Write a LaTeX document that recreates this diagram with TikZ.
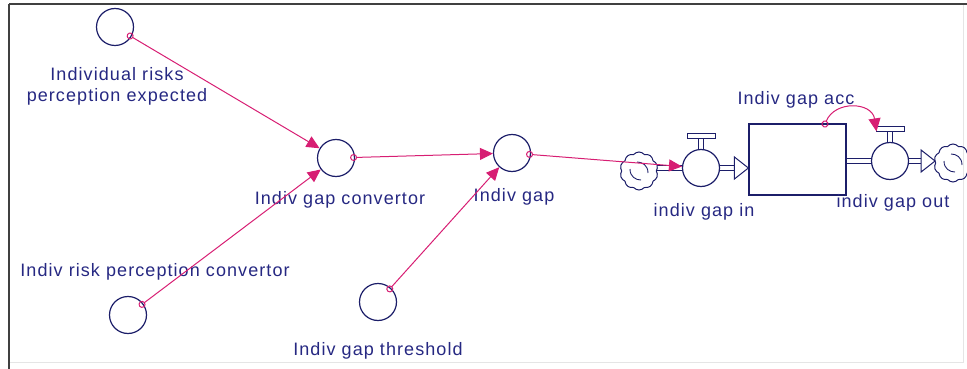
\documentclass[tikz,border=0pt]{standalone}
\usepackage{fontspec}
\setmainfont{Liberation Sans}[LetterSpace=6]
\usetikzlibrary{arrows.meta,shapes.symbols,calc}
\definecolor{navy}{RGB}{28,30,105}
\definecolor{txt}{RGB}{38,40,130}
\definecolor{mag}{RGB}{215,30,115}
\begin{document}
\begin{tikzpicture}[x=1pt,y=-1pt,
  conv/.style={circle, draw=navy, line width=1.2pt, minimum size=37pt, inner sep=0pt},
  valve/.style={circle, draw=navy, line width=1.2pt, minimum size=37pt, inner sep=0pt},
  bar/.style={draw=navy, line width=1pt, minimum width=28pt, minimum height=5pt, inner sep=0pt},
  cloudnode/.style={cloud, cloud puffs=10, cloud puff arc=100, aspect=1, draw=navy, line width=1pt, minimum width=38pt, minimum height=38pt, inner sep=0pt},
  lbl/.style={text=txt, font=\fontsize{18}{21}\selectfont, inner sep=0pt, align=center},
  link/.style={draw=mag, line width=1pt, shorten <=-5pt, {Circle[open,length=7pt,width=7pt]}-{Triangle[length=13pt,width=12pt]}},
  pipeline/.style={draw=navy, line width=1pt}]
\useasboundingbox (0,0) rectangle (967,369);
% frame
\draw[black!75, line width=2pt] (9,4) -- (967,4);
\draw[black!75, line width=2.5pt] (9,4) -- (9,369);
\draw[black!10, line width=1pt] (963,5) -- (963,362) -- (10,362);

% converters
\node[conv] (irpe) at (115,27) {};
\node[conv] (igc) at (336,158) {};
\node[conv] (ig) at (512,153) {};
\node[conv] (irpc) at (128,315) {};
\node[conv] (igt) at (378,302) {};

% labels
\node[lbl] (lirpe) at (117,86) {Individual risks\\perception expected};
\node[lbl] (ligc) at (340,200) {Indiv gap convertor};
\node[lbl] (lig) at (514,197) {Indiv gap};
\node[lbl] (lirpc) at (155,272) {Indiv risk perception convertor};
\node[lbl] (ligt) at (378,351) {Indiv gap threshold};

% stock and flows
\node[draw=navy, line width=1.2pt, minimum width=97pt, minimum height=71pt, inner sep=0pt] (acc) at (797.5,159.5) {};
\node[lbl] (lacc) at (796,100) {Indiv gap acc};
\node[cloudnode] (cin) at (639,171) {};
\node[valve] (vin) at (701,168) {};
\node[bar] (tin) at ($(vin.north)+(0,-12.5)$) {};
\node[valve] (vout) at (890,161) {};
\node[bar] (tout) at ($(vout.north)+(0,-12.5)$) {};
\node[cloudnode] (cout) at (953,163) {};
\node[lbl] (lvin) at (704,212) {indiv gap in};
\node[lbl] (lvout) at (893,203) {indiv gap out};

% valve stems
\foreach \v/\t in {vin/tin, vout/tout} {
  \draw[pipeline] ($(\t.south)+(-2.5,0)$) -- ($(\v.north)+(-2.5,0)$);
  \draw[pipeline] ($(\t.south)+(2.5,0)$) -- ($(\v.north)+(2.5,0)$);
}
% cloud inner marks
\foreach \c in {cin, cout} {
  \draw[navy, line width=0.9pt] ($(\c.center)+(-9,-2)$) .. controls +(0,8) and +(-5,0) .. ($(\c.center)+(2,9)$);
  \draw[navy, line width=0.9pt] ($(\c.center)+(9,2)$) .. controls +(0,-8) and +(5,0) .. ($(\c.center)+(-2,-9)$);
}

% inflow pipe
\foreach \d in {-2.5,2.5} {
  \draw[pipeline] ($(cin.east |- vin)+(0,\d)$) -- ($(vin.west)+(0,\d)$);
  \draw[pipeline] ($(vin.east)+(0,\d)$) -- ($(acc.west |- vin)+(-14,\d)$);
}
\draw[pipeline] ($(acc.west |- vin)+(-14,-11)$) -- (acc.west |- vin) -- ($(acc.west |- vin)+(-14,11)$) -- cycle;
% outflow pipe
\foreach \d in {-2.5,2.5} {
  \draw[pipeline] ($(acc.east |- vout)+(0,\d)$) -- ($(vout.west)+(0,\d)$);
  \draw[pipeline] ($(vout.east)+(0,\d)$) -- ($(cout.west |- vout)+(-14,\d)$);
}
\draw[pipeline] ($(cout.west |- vout)+(-14,-11)$) -- (cout.west |- vout) -- ($(cout.west |- vout)+(-14,11)$) -- cycle;

% connectors
\draw[link] (irpe) -- (igc);
\draw[link] (irpc) -- (igc);
\draw[link] (igc) -- (ig);
\draw[link] (igt) -- (ig);
\draw[link] (ig) -- (vin);
\coordinate (accout) at (825,124);
\coordinate (tend) at ($(tout.west)+(1,2)$);
\draw[link, shorten <=-3.5pt] (accout) .. controls (835,100) and (872,102) .. (tend);
\end{tikzpicture}
\end{document}
